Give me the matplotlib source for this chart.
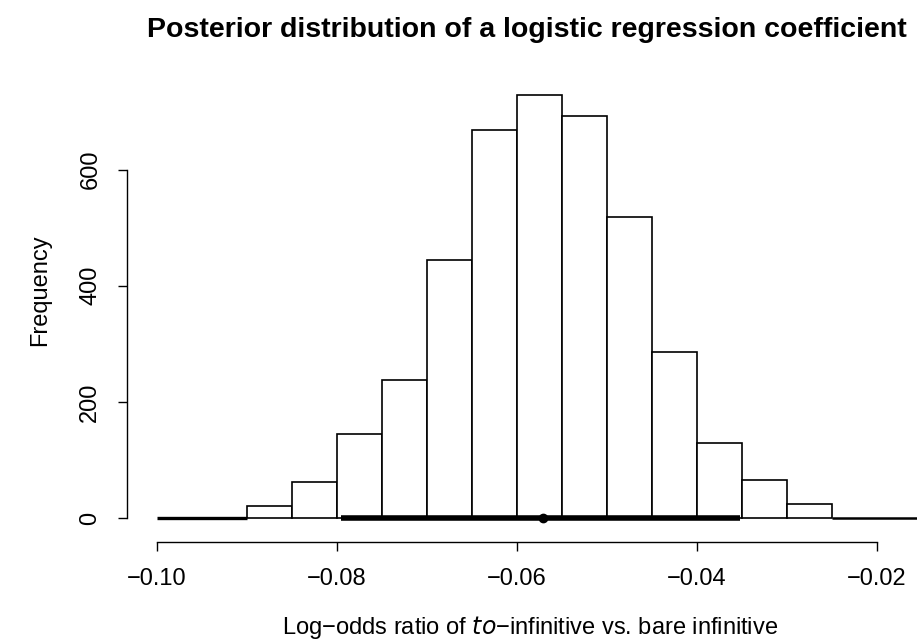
import numpy as np
import matplotlib.pyplot as plt

plt.rcParams['font.family'] = ['Liberation Sans', 'DejaVu Sans']

# histogram of posterior draws (bins of width 0.005)
bin_edges = [-0.090, -0.085, -0.080, -0.075, -0.070, -0.065, -0.060,
             -0.055, -0.050, -0.045, -0.040, -0.035, -0.030, -0.025]
counts = [21, 62, 145, 238, 444, 668, 728, 693, 518, 286, 129, 66, 24]

# posterior summary: 95% interval and point estimate
hpd_low, hpd_high = -0.0795, -0.0352
point_est = -0.0571

x_ticks = [-0.10, -0.08, -0.06, -0.04, -0.02]
y_ticks = [0, 200, 400, 600]

fig = plt.figure(figsize=(9.17, 6.43), dpi=100)
ax = fig.add_axes([0.1385, 0.1571, 0.8615, 0.7107])

lefts = np.array(bin_edges[:-1])
widths = np.diff(bin_edges)
ax.bar(lefts, counts, width=widths, align='edge', color='white',
       edgecolor='black', linewidth=1.2, zorder=2)

# zero line outside the bars
ax.plot([x_ticks[0], bin_edges[0]], [0, 0], color='black', lw=2.4, zorder=3,
        solid_capstyle='butt')
ax.plot([bin_edges[-1], 0.0], [0, 0], color='black', lw=1.8, zorder=3,
        solid_capstyle='butt')

# interval + point estimate
ax.plot([hpd_low, hpd_high], [0, 0], color='black', lw=4, zorder=4,
        solid_capstyle='butt')
ax.plot([point_est], [0], 'o', color='black', ms=6, zorder=5)

ax.set_xlim(-0.10333, -0.01556)
ax.set_ylim(-41.4, 746)

for s in ['top', 'right']:
    ax.spines[s].set_visible(False)
ax.spines['left'].set_bounds(0, 600)
ax.spines['bottom'].set_bounds(-0.10, -0.02)
ax.spines['left'].set_linewidth(1.0)
ax.spines['bottom'].set_linewidth(1.0)

ax.set_xticks(x_ticks)
ax.set_xticklabels(['\u2212%.2f' % abs(v) for v in x_ticks])
ax.set_yticks(y_ticks)
ax.set_yticklabels([str(v) for v in y_ticks], rotation=90, va='center')
ax.tick_params(axis='both', length=6.5, width=1.0, labelsize=17, pad=12)

ax.set_xlabel('Log\u2212odds ratio of $\\it{to}$\u2212infinitive vs. bare infinitive',
              fontsize=17, va='center')
ax.xaxis.set_label_coords(0.51, -0.188)
ax.set_ylabel('Frequency', fontsize=17, va='center')
ax.yaxis.set_label_coords(-0.110, 0.55)
fig.text(0.575, 0.953, 'Posterior distribution of a logistic regression coefficient',
         fontsize=20.5, fontweight='bold', ha='center', va='center')

fig.savefig('out.png', dpi=100)
